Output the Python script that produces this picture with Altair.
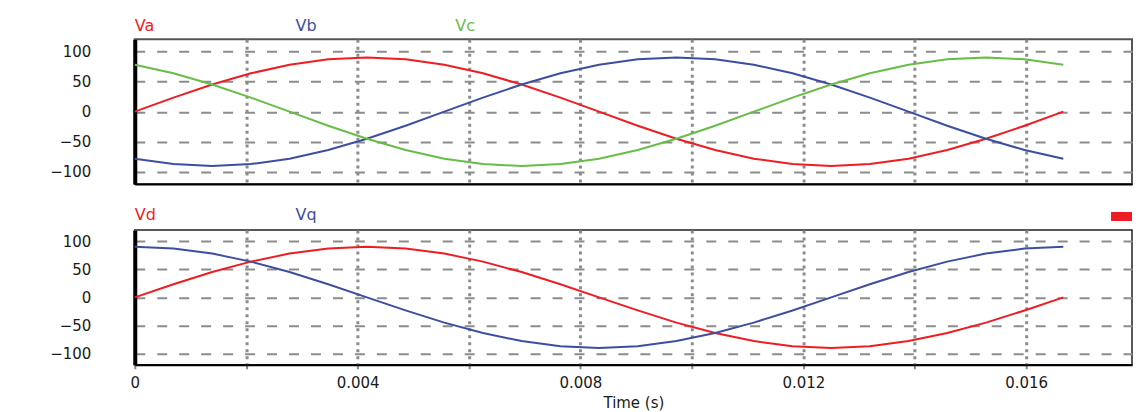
import altair as alt
import pandas as pd

# Time samples (s) and voltages
time_s = [0.0, 0.000694, 0.001389, 0.002083, 0.002778, 0.003472, 0.004167,
          0.004861, 0.005556, 0.00625, 0.006944, 0.007639, 0.008333, 0.009028,
          0.009722, 0.010417, 0.011111, 0.011806, 0.0125, 0.013194, 0.013889,
          0.014583, 0.015278, 0.015972, 0.016667]

va = [0, 23.3, 45, 63.6, 77.9, 86.9, 90, 86.9, 77.9, 63.6, 45, 23.3, 0,
      -23.3, -45, -63.6, -77.9, -86.9, -90, -86.9, -77.9, -63.6, -45, -23.3, 0]
vb = [-77.9, -86.9, -90, -86.9, -77.9, -63.6, -45, -23.3, 0, 23.3, 45, 63.6,
      77.9, 86.9, 90, 86.9, 77.9, 63.6, 45, 23.3, 0, -23.3, -45, -63.6, -77.9]
vc = [77.9, 63.6, 45, 23.3, 0, -23.3, -45, -63.6, -77.9, -86.9, -90, -86.9,
      -77.9, -63.6, -45, -23.3, 0, 23.3, 45, 63.6, 77.9, 86.9, 90, 86.9, 77.9]
vd = [0, 23.3, 45, 63.6, 77.9, 86.9, 90, 86.9, 77.9, 63.6, 45, 23.3, 0,
      -23.3, -45, -63.6, -77.9, -86.9, -90, -86.9, -77.9, -63.6, -45, -23.3, 0]
vq = [90, 86.9, 77.9, 63.6, 45, 23.3, 0, -23.3, -45, -63.6, -77.9, -86.9, -90,
      -86.9, -77.9, -63.6, -45, -23.3, 0, 23.3, 45, 63.6, 77.9, 86.9, 90]

top_series = ["Va", "Vb", "Vc"]
bottom_series = ["Vd", "Vq"]
y_ticks = [-100, -50, 0, 50, 100]
x_ticks = [0.0, 0.002, 0.004, 0.006, 0.008, 0.010, 0.012, 0.014, 0.016]

RED = "#ee1d23"
BLUE = "#3d4ea0"
GREEN = "#67bd45"
GRID = "#8c8c8c"
FONT = "DejaVu Sans"

top_df = pd.DataFrame({
    "time": time_s * 3,
    "value": va + vb + vc,
    "series": sum([[s] * len(time_s) for s in top_series], []),
})
bot_df = pd.DataFrame({
    "time": time_s * 2,
    "value": vd + vq,
    "series": sum([[s] * len(time_s) for s in bottom_series], []),
})

x_scale = alt.Scale(domain=[0, 0.0179], nice=False, zero=False)
y_scale = alt.Scale(domain=[-120, 120], nice=False)

y_axis = alt.Axis(values=y_ticks, grid=True, gridDash=[10, 12], gridColor=GRID,
                  gridWidth=2, ticks=False, domainColor="black", domainWidth=4,
                  labelPadding=44, labelFontSize=15, labelFont=FONT,
                  labelColor="#1a1a1a", minExtent=126, maxExtent=126, title=None)

x_axis_top = alt.Axis(values=x_ticks, grid=True, gridDash=[3, 4], gridColor=GRID,
                      gridWidth=3, labels=False, ticks=False, domainColor="black",
                      domainWidth=2, title=None)

x_axis_bot = alt.Axis(values=x_ticks, grid=True, gridDash=[3, 4], gridColor=GRID,
                      gridWidth=3, ticks=True, tickSize=4, tickColor="#888888",
                      tickWidth=2, domainColor="black", domainWidth=2,
                      format="~g",
                      labelExpr="round(datum.value * 1000) % 4 === 0 ? datum.label : ''",
                      labelFlush=False, labelPadding=7, labelFontSize=15,
                      labelFont=FONT, labelColor="#1a1a1a", title="Time (s)",
                      titleFont=FONT, titleFontSize=15, titleFontWeight="normal",
                      titleColor="#1a1a1a", titlePadding=5)


def label(txt, color, xpos, ypos):
    return alt.Chart(pd.DataFrame({"t": [txt]})).mark_text(
        align="left", baseline="middle", fontSize=16, font=FONT, color=color
    ).encode(text="t:N", x=alt.value(xpos), y=alt.value(ypos))


top_lines = alt.Chart(top_df).mark_line(strokeWidth=2).encode(
    x=alt.X("time:Q", scale=x_scale, axis=x_axis_top),
    y=alt.Y("value:Q", scale=y_scale, axis=y_axis),
    color=alt.Color("series:N", scale=alt.Scale(domain=top_series,
                                                range=[RED, BLUE, GREEN]),
                    legend=None),
)

top = alt.layer(
    top_lines,
    label("Va", RED, 0, -13),
    label("Vb", BLUE, 161, -13),
    label("Vc", GREEN, 321, -13),
).properties(width=999, height=145,
             view=alt.ViewBackground(stroke="#555555", strokeWidth=2))

bot_lines = alt.Chart(bot_df).mark_line(strokeWidth=2).encode(
    x=alt.X("time:Q", scale=x_scale, axis=x_axis_bot),
    y=alt.Y("value:Q", scale=y_scale, axis=y_axis),
    color=alt.Color("series:N", scale=alt.Scale(domain=bottom_series,
                                                range=[RED, BLUE]),
                    legend=None),
)

marker = alt.Chart(pd.DataFrame({"m": [1]})).mark_rect(color=RED).encode(
    x=alt.value(978), x2=alt.value(999), y=alt.value(-18), y2=alt.value(-9))

bottom = alt.layer(
    bot_lines,
    label("Vd", RED, 0, -15),
    label("Vq", BLUE, 161, -15),
    marker,
).properties(width=999, height=135,
             view=alt.ViewBackground(stroke="#222222", strokeWidth=1.5))

chart = alt.vconcat(top, bottom, spacing=21).properties(
    padding={"left": 0, "top": 9, "right": 0, "bottom": 0}
).resolve_scale(color="independent")

chart.save("out.html", embed_options={"renderer": "svg", "actions": False})
